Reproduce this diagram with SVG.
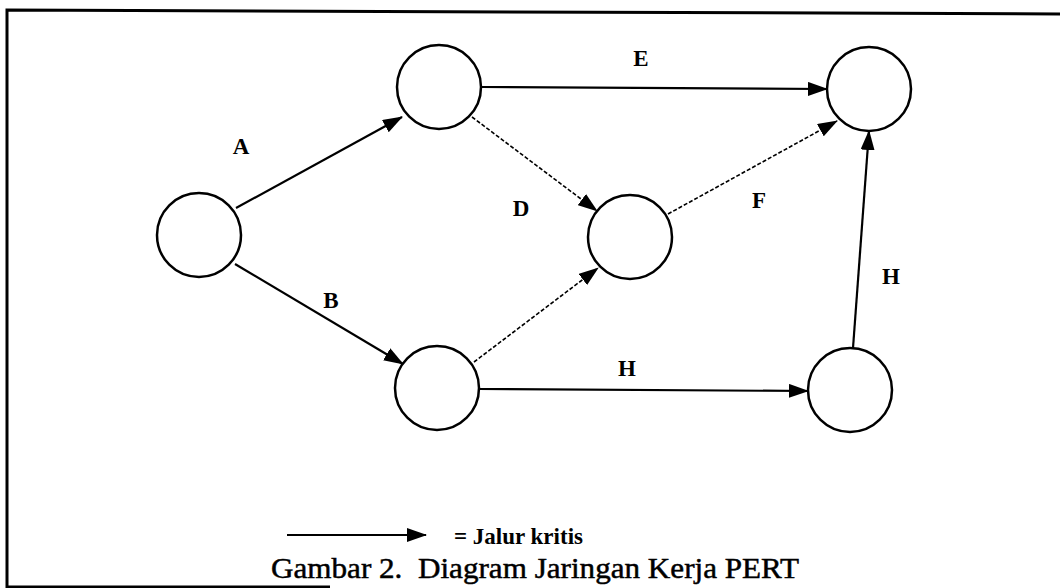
<svg xmlns="http://www.w3.org/2000/svg" width="1060" height="588" viewBox="0 0 1060 588">
<style>
.node{fill:#fff;stroke:#000;stroke-width:2.5}
.crit{fill:none;stroke:#000;stroke-width:2.2}
.dash{fill:none;stroke:#000;stroke-width:1.6;stroke-dasharray:4 2}
.lbl{font-family:'Liberation Serif','Times New Roman',serif;font-weight:bold;font-size:23px;fill:#000;text-anchor:middle}
.cap{font-family:'Liberation Serif','Times New Roman',serif;font-size:30px;fill:#000;stroke:#000;stroke-width:0.5;white-space:pre}
</style>
<defs>
<marker id="ah" markerUnits="userSpaceOnUse" markerWidth="20" markerHeight="14" refX="19" refY="7" orient="auto">
<path d="M0,0 L20,7 L0,14 Z" fill="#000"/>
</marker>
</defs>
<rect width="1060" height="588" fill="#fff"/>
<path d="M1065,14 L7,10 L7,587 L330,587" fill="none" stroke="#000" stroke-width="3"/>
<g id="connectors">
<line class="crit" x1="236" y1="208" x2="402" y2="117" marker-end="url(#ah)"/>
<line class="crit" x1="235" y1="264" x2="403" y2="364" marker-end="url(#ah)"/>
<line class="crit" x1="482" y1="87" x2="827" y2="89" marker-end="url(#ah)"/>
<line class="dash" x1="472" y1="117" x2="597" y2="211" marker-end="url(#ah)"/>
<line class="dash" x1="668" y1="214" x2="837" y2="121" marker-end="url(#ah)"/>
<line class="dash" x1="474" y1="362" x2="598" y2="268" marker-end="url(#ah)"/>
<line class="crit" x1="479" y1="389" x2="808" y2="391" marker-end="url(#ah)"/>
<line class="crit" x1="853" y1="348" x2="869" y2="131" marker-end="url(#ah)"/>
</g>
<g id="labels">
<text class="lbl" x="241" y="154">A</text>
<text class="lbl" x="331" y="308">B</text>
<text class="lbl" x="521" y="216">D</text>
<text class="lbl" x="641" y="66">E</text>
<text class="lbl" x="759" y="208">F</text>
<text class="lbl" x="627" y="376">H</text>
<text class="lbl" x="891" y="284">H</text>
</g>
<g id="n1"><circle class="node" cx="199" cy="235" r="42"/></g>
<g id="n2"><circle class="node" cx="439" cy="87" r="42"/></g>
<g id="n3"><circle class="node" cx="630" cy="237" r="42"/></g>
<g id="n4"><circle class="node" cx="869" cy="89" r="42"/></g>
<g id="n5"><circle class="node" cx="437" cy="388" r="42"/></g>
<g id="n6"><circle class="node" cx="850" cy="390" r="42"/></g>
<g id="legend">
<line class="crit" x1="287" y1="535" x2="426" y2="535" marker-end="url(#ah)"/>
<text class="lbl" x="454" y="544" style="text-anchor:start">= Jalur kritis</text>
</g>
<text class="cap" x="271" y="578" textLength="528" lengthAdjust="spacingAndGlyphs">Gambar 2.  Diagram Jaringan Kerja PERT</text>
</svg>
